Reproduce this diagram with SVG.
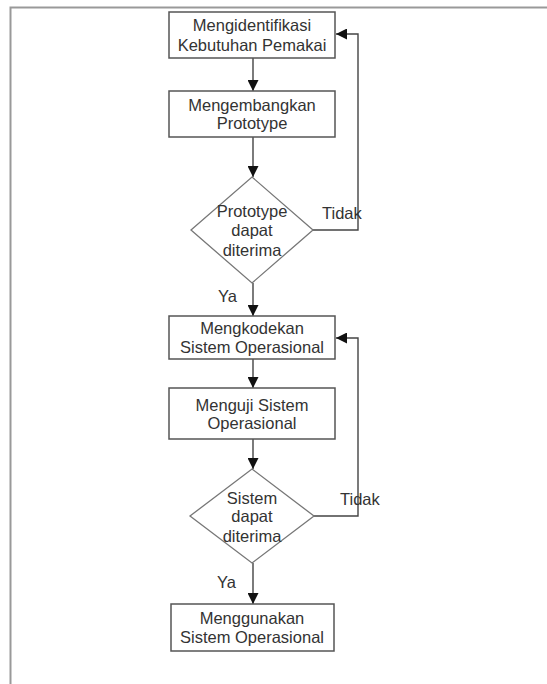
<svg xmlns="http://www.w3.org/2000/svg" width="547" height="684" viewBox="0 0 547 684">
<defs>
<marker id="ah" markerWidth="11" markerHeight="11" refX="11" refY="5.5" orient="auto" markerUnits="userSpaceOnUse">
<path d="M0,0 L11,5.5 L0,11 Z" fill="#111"/>
</marker>
<style>
.box{fill:#fff;stroke:#555;stroke-width:1.5}
.dia{fill:#fff;stroke:#777;stroke-width:1.3}
.t{font-family:"Liberation Sans",Arial,sans-serif;font-size:16.5px;fill:#333;text-anchor:middle}
.lbl{font-family:"Liberation Sans",Arial,sans-serif;font-size:16.5px;fill:#333}
.c{fill:none;stroke:#444;stroke-width:1.4}
</style>
</defs>
<rect width="547" height="684" fill="#fff"/>
<path d="M10.5,684 L10.5,7.5 L547,7.5" fill="none" stroke="#999" stroke-width="2"/>
<g id="connectors">
<line class="c" x1="253" y1="58" x2="253" y2="91" marker-end="url(#ah)"/>
<line class="c" x1="253" y1="137" x2="253" y2="177" marker-end="url(#ah)"/>
<polyline class="c" points="313,230 358,230 358,34 336,34" marker-end="url(#ah)"/>
<line class="c" x1="253" y1="283" x2="253" y2="316" marker-end="url(#ah)"/>
<line class="c" x1="253" y1="359" x2="253" y2="388" marker-end="url(#ah)"/>
<line class="c" x1="253" y1="439" x2="253" y2="469" marker-end="url(#ah)"/>
<polyline class="c" points="314,516 358,516 358,338 336,338" marker-end="url(#ah)"/>
<line class="c" x1="253" y1="563" x2="253" y2="604" marker-end="url(#ah)"/>
<text class="lbl" x="322" y="219">Tidak</text>
<text class="lbl" x="218" y="302">Ya</text>
<text class="lbl" x="340" y="505">Tidak</text>
<text class="lbl" x="217" y="588">Ya</text>
</g>
<g id="n1">
<rect class="box" x="169" y="12" width="166" height="46"/>
<text class="t" x="252" y="31">Mengidentifikasi</text>
<text class="t" x="252" y="51">Kebutuhan Pemakai</text>
</g>
<g id="n2">
<rect class="box" x="169" y="91" width="166" height="46"/>
<text class="t" x="252" y="111">Mengembangkan</text>
<text class="t" x="252" y="129">Prototype</text>
</g>
<g id="d1">
<polygon class="dia" points="252,177 313,230 252,283 191,230"/>
<text class="t" x="252" y="217">Prototype</text>
<text class="t" x="252" y="236">dapat</text>
<text class="t" x="252" y="256">diterima</text>
</g>
<g id="n3">
<rect class="box" x="169" y="316" width="166" height="43"/>
<text class="t" x="252" y="334">Mengkodekan</text>
<text class="t" x="252" y="353">Sistem Operasional</text>
</g>
<g id="n4">
<rect class="box" x="169" y="388" width="166" height="51"/>
<text class="t" x="252" y="411">Menguji Sistem</text>
<text class="t" x="252" y="429">Operasional</text>
</g>
<g id="d2">
<polygon class="dia" points="252,469 314,516 252,563 190,516"/>
<text class="t" x="252" y="504">Sistem</text>
<text class="t" x="252" y="522">dapat</text>
<text class="t" x="252" y="542">diterima</text>
</g>
<g id="n5">
<rect class="box" x="171" y="604" width="163" height="47"/>
<text class="t" x="252" y="624">Menggunakan</text>
<text class="t" x="252" y="643">Sistem Operasional</text>
</g>
</svg>
